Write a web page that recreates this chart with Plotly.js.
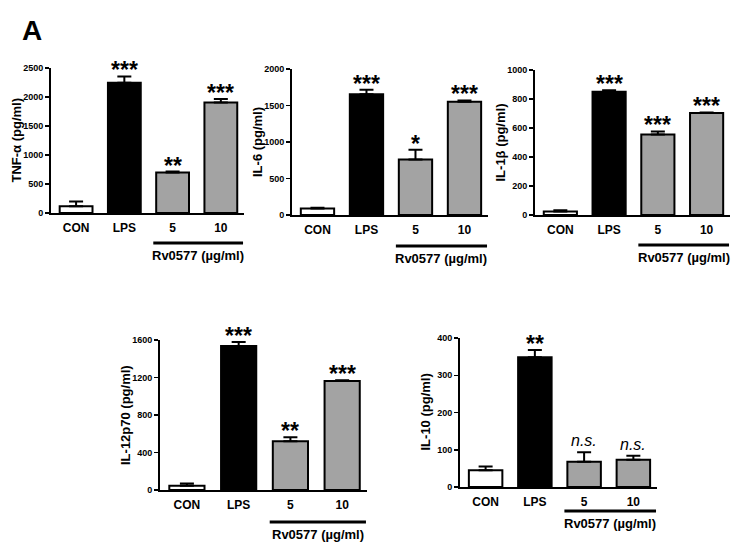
<!DOCTYPE html>
<html>
<head>
<meta charset="utf-8">
<script src="https://cdn.plot.ly/plotly-3.0.1.min.js"></script>
<style>
  html, body { margin: 0; padding: 0; background: #fff; }
  #chart { width: 738px; height: 547px; }
</style>
</head>
<body>
<div id="chart"></div>
<script>
'use strict';

// Data (mean and upper SEM bar)
const categories = ['CON', 'LPS', '5', '10'];

const tnfMean = [115, 2245, 700, 1905];
const tnfErr = [85, 110, 15, 60];
const tnfSig = ['', '***', '**', '***'];
const tnfTicks = [0, 500, 1000, 1500, 2000, 2500];

const il6Mean = [90, 1655, 760, 1552];
const il6Err = [10, 60, 135, 18];
const il6Sig = ['', '***', '*', '***'];
const il6Ticks = [0, 500, 1000, 1500, 2000];

const il1bMean = [25, 850, 556, 703];
const il1bErr = [8, 10, 20, 4];
const il1bSig = ['', '***', '***', '***'];
const il1bTicks = [0, 200, 400, 600, 800, 1000];

const il12Mean = [45, 1535, 520, 1163];
const il12Err = [25, 45, 42, 7];
const il12Sig = ['', '***', '**', '***'];
const il12Ticks = [0, 400, 800, 1200, 1600];

const il10Mean = [45, 348, 68, 73];
const il10Err = [10, 20, 25, 11];
const il10Sig = ['', '**', 'n.s.', 'n.s.'];
const il10Ticks = [0, 100, 200, 300, 400];

const W = 738;
const H = 547;
const FONT = 'Liberation Sans, Arial, sans-serif';
const GREY = '#a3a3a3';
const barColors = ['#ffffff', '#000000', GREY, GREY];

// panel boxes in pixels (left/right of x axis, top tick / zero line)
const panels = [
  {title: 'TNF-α (pg/ml)', mean: tnfMean, err: tnfErr, sig: tnfSig, ticks: tnfTicks,
    left: 51, right: 244, top: 68, bottom: 213, lineGap: 30},
  {title: 'IL-6 (pg/ml)', mean: il6Mean, err: il6Err, sig: il6Sig, ticks: il6Ticks,
    left: 292, right: 488, top: 69, bottom: 215, lineGap: 31},
  {title: 'IL-1β (pg/ml)', mean: il1bMean, err: il1bErr, sig: il1bSig, ticks: il1bTicks,
    left: 535, right: 730, top: 70, bottom: 215, lineGap: 30},
  {title: 'IL-12p70 (pg/ml)', mean: il12Mean, err: il12Err, sig: il12Sig, ticks: il12Ticks,
    left: 160, right: 367, top: 340, bottom: 490, lineGap: 32},
  {title: 'IL-10 (pg/ml)', mean: il10Mean, err: il10Err, sig: il10Sig, ticks: il10Ticks,
    left: 460, right: 657, top: 338, bottom: 487, lineGap: 24}
];

const data = [];
const shapes = [];
const annotations = [{
  xref: 'paper', yref: 'paper',
  x: 20 / W, y: 1 - 13 / H,
  xanchor: 'left', yanchor: 'top',
  text: '<b>A</b>', showarrow: false,
  font: {family: FONT, size: 28, color: '#000'}
}];

const layout = {
  width: W,
  height: H,
  margin: {l: 0, r: 0, t: 0, b: 0},
  paper_bgcolor: '#fff',
  plot_bgcolor: 'rgba(0,0,0,0)',
  showlegend: false,
  font: {family: FONT, color: '#000'}
};

panels.forEach((p, i) => {
  const n = i === 0 ? '' : String(i + 1);
  const xd = [p.left / W, p.right / W];
  const yd = [1 - p.bottom / H, 1 - p.top / H];
  const yMax = p.ticks[p.ticks.length - 1];

  data.push({
    type: 'bar',
    x: categories,
    y: p.mean,
    xaxis: 'x' + n,
    yaxis: 'y' + n,
    width: 0.68,
    marker: {color: barColors, line: {color: '#000', width: 2}},
    error_y: {
      type: 'data',
      symmetric: false,
      array: p.err,
      arrayminus: p.err.map(() => 0),
      color: '#000',
      thickness: 2,
      width: 7
    },
    hoverinfo: 'none'
  });

  layout['xaxis' + n] = {
    domain: xd,
    anchor: 'y' + n,
    type: 'category',
    range: [-0.52, 3.48],
    showline: true,
    linecolor: '#000',
    linewidth: 2,
    ticks: '',
    ticklabelstandoff: 3,
    showgrid: false,
    zeroline: false,
    tickfont: {family: FONT, size: 12, color: '#000', weight: 'bold'},
    fixedrange: true
  };

  layout['yaxis' + n] = {
    domain: yd,
    anchor: 'x' + n,
    range: [0, yMax],
    tickvals: p.ticks,
    showline: true,
    linecolor: '#000',
    linewidth: 2,
    ticks: 'outside',
    ticklen: 4,
    tickwidth: 1.5,
    tickcolor: '#000',
    showgrid: false,
    zeroline: false,
    tickfont: {family: FONT, size: 9, color: '#000', weight: 'bold'},
    fixedrange: true
  };

  // y title
  annotations.push({
    xref: 'paper', yref: 'paper',
    x: (p.left - 35) / W, y: (yd[0] + yd[1]) / 2,
    xanchor: 'center', yanchor: 'middle',
    textangle: -90,
    text: '<b>' + p.title + '</b>',
    showarrow: false,
    font: {family: FONT, size: 13, color: '#000'}
  });

  // significance marks above the error bars (x given as category index)
  categories.forEach((c, k) => {
    if (!p.sig[k]) return;
    const ns = p.sig[k] === 'n.s.';
    annotations.push({
      xref: 'x' + n, yref: 'y' + n,
      x: k, y: p.mean[k] + p.err[k],
      xanchor: 'center', yanchor: 'bottom',
      yshift: ns ? 1 : -9,
      text: ns ? '<i>n.s.</i>' : '<b>' + p.sig[k] + '</b>',
      showarrow: false,
      font: {family: FONT, size: ns ? 16 : 23, color: '#000'}
    });
  });

  // Rv0577 bracket under the two dose groups
  const lineY = 1 - (p.bottom + p.lineGap) / H;
  shapes.push({
    type: 'line',
    xref: 'x' + n, yref: 'paper',
    x0: 1.6, x1: 3.46,
    y0: lineY, y1: lineY,
    line: {color: '#000', width: 3}
  });
  annotations.push({
    xref: 'x' + n, yref: 'paper',
    x: 2.53, y: lineY - 3 / H,
    xanchor: 'center', yanchor: 'top',
    text: '<b>Rv0577 (µg/ml)</b>',
    showarrow: false,
    font: {family: FONT, size: 13, color: '#000'}
  });
});

layout.shapes = shapes;
layout.annotations = annotations;

Plotly.newPlot('chart', data, layout, {displayModeBar: false, staticPlot: true});
</script>
</body>
</html>
